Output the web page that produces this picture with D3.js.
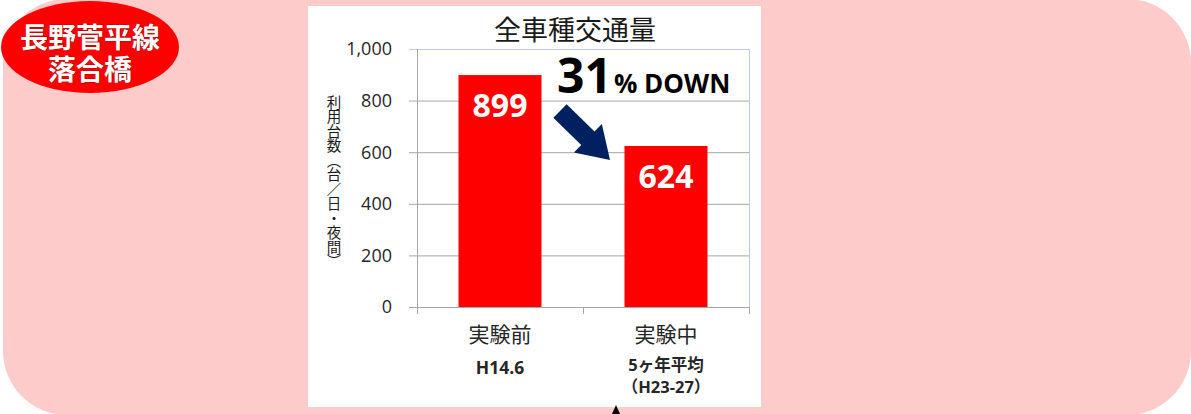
<!DOCTYPE html>
<html>
  <head>
    <meta charset="utf-8">
    <style>
      body { margin: 0; background: #ffffff; }
      .tick-label {
        font-family: 'Open Sans', 'Noto Sans CJK JP', sans-serif;
        font-size: 18px;
        fill: #262626;
      }
      .jp {
        font-family: 'Noto Sans CJK JP', sans-serif;
      }
    </style>
  </head>
  <body>
    <script src="https://d3js.org/d3.v7.min.js"></script>
    <script>
      // data
      var categories = ["実験前", "実験中"];
      var values = [899, 624];
      var subLabels = [["H14.6"], ["5ヶ年平均", "（H23-27）"]];
      var yTicks = [0, 200, 400, 600, 800, 1000];
      var title = "全車種交通量";
      var yLabel = "利用台数（台／日・夜間）";
      var badgeLines = ["長野菅平線", "落合橋"];

      var width = 1191;
      var height = 414;

      var svg = d3.select("body")
        .append("svg")
        .attr("width", width)
        .attr("height", height);

      // pink background panel
      svg.append("rect")
        .attr("x", 3).attr("y", -1)
        .attr("width", 1188).attr("height", 416)
        .attr("rx", 64).attr("ry", 64)
        .attr("fill", "#fecbcb");

      // white chart panel
      svg.append("rect")
        .attr("x", 308).attr("y", 6)
        .attr("width", 453).attr("height", 401)
        .attr("fill", "#ffffff");

      var plot = { left: 417, right: 749, top: 49, bottom: 307 };

      var y = d3.scaleLinear()
        .domain([0, 1000])
        .range([plot.bottom, plot.top]);

      var x = d3.scaleBand()
        .domain(categories)
        .range([plot.left, plot.right])
        .paddingInner(0.5)
        .paddingOuter(0.25);

      // gridlines + y ticks
      svg.append("g").selectAll("line")
        .data(yTicks)
        .enter().append("line")
        .attr("x1", plot.left - 8)
        .attr("x2", plot.right)
        .attr("y1", function(d) { return y(d) + 0.5; })
        .attr("y2", function(d) { return y(d) + 0.5; })
        .attr("stroke", function(d) { return d === 1000 ? "#b9cde5" : "#a6a6a6"; })
        .attr("stroke-width", 1);

      svg.selectAll(".tick-label")
        .data(yTicks)
        .enter().append("text")
        .attr("class", "tick-label")
        .attr("x", 392)
        .attr("y", function(d) { return y(d); })
        .attr("dy", "0.36em")
        .attr("text-anchor", "end")
        .text(d3.format(","));

      // plot borders
      svg.append("line")
        .attr("x1", plot.right + 0.5).attr("x2", plot.right + 0.5)
        .attr("y1", plot.top).attr("y2", plot.bottom)
        .attr("stroke", "#b9cde5");
      svg.append("line")
        .attr("x1", plot.left + 0.5).attr("x2", plot.left + 0.5)
        .attr("y1", plot.top).attr("y2", plot.bottom + 7)
        .attr("stroke", "#a6a6a6");

      // x ticks at band boundaries
      var xTickPos = [plot.left, (plot.left + plot.right) / 2, plot.right];
      svg.selectAll(".xtick")
        .data(xTickPos)
        .enter().append("line")
        .attr("x1", function(d) { return Math.round(d) + 0.5; })
        .attr("x2", function(d) { return Math.round(d) + 0.5; })
        .attr("y1", plot.bottom)
        .attr("y2", plot.bottom + 7)
        .attr("stroke", "#a6a6a6");

      // bars
      svg.selectAll(".bar")
        .data(values)
        .enter().append("rect")
        .attr("x", function(d, i) { return x(categories[i]); })
        .attr("y", function(d) { return y(d); })
        .attr("width", x.bandwidth())
        .attr("height", function(d) { return plot.bottom - y(d); })
        .attr("fill", "#ff0000");

      svg.selectAll(".bar-label")
        .data(values)
        .enter().append("text")
        .attr("x", function(d, i) { return x(categories[i]) + x.bandwidth() / 2; })
        .attr("y", function(d) { return y(d) + 42; })
        .attr("text-anchor", "middle")
        .attr("font-family", "'Open Sans', sans-serif")
        .attr("font-weight", "bold")
        .attr("font-size", 32)
        .attr("fill", "#ffffff")
        .text(function(d) { return d; });

      // category labels
      svg.selectAll(".cat")
        .data(categories)
        .enter().append("text")
        .attr("class", "jp")
        .attr("x", function(d) { return x(d) + x.bandwidth() / 2; })
        .attr("y", 342)
        .attr("text-anchor", "middle")
        .attr("font-size", 21)
        .attr("fill", "#262626")
        .text(function(d) { return d; });

      categories.forEach(function(c, i) {
        subLabels[i].forEach(function(s, j) {
          svg.append("text")
            .attr("font-family", "'Open Sans', 'Noto Sans CJK JP', sans-serif")
            .attr("x", x(c) + x.bandwidth() / 2)
            .attr("y", (i === 0 ? 374 : 371) + j * 22)
            .attr("text-anchor", "middle")
            .attr("font-size", i === 0 ? 17.5 : 16.5)
            .attr("font-weight", "bold")
            .attr("fill", "#262626")
            .text(s);
        });
      });

      // title
      svg.append("text")
        .attr("class", "jp")
        .attr("x", 575)
        .attr("y", 40)
        .attr("text-anchor", "middle")
        .attr("font-size", 27)
        .attr("fill", "#1a1a1a")
        .text(title);

      // y axis label, vertical writing
      svg.append("text")
        .attr("class", "jp")
        .attr("x", 334)
        .attr("y", 95)
        .attr("font-size", 14.5)
        .attr("fill", "#1a1a1a")
        .style("writing-mode", "vertical-rl")
        .text(yLabel);

      // percent change annotation
      var pct = Math.round((1 - values[1] / values[0]) * 100);
      var note = svg.append("text")
        .attr("x", 557)
        .attr("y", 93)
        .attr("font-family", "'Open Sans', sans-serif")
        .attr("font-weight", "bold")
        .attr("fill", "#000000");
      note.append("tspan").attr("font-size", 48).text(pct);
      note.append("tspan").attr("font-size", 26).attr("dx", 2).text("% DOWN");

      // navy arrow
      var arrowPts = [[0, -9.5], [39, -9.5], [39, -20], [70, 0], [39, 20], [39, 9.5], [0, 9.5]];
      svg.append("polygon")
        .attr("points", arrowPts.map(function(p) { return p.join(","); }).join(" "))
        .attr("transform", "translate(560,111) rotate(44.4)")
        .attr("fill", "#002060");

      // small black marker at bottom
      svg.append("polygon")
        .attr("points", "616,405 612,414 620,414")
        .attr("fill", "#000000");

      // red badge
      svg.append("ellipse")
        .attr("cx", 90).attr("cy", 47)
        .attr("rx", 89).attr("ry", 46)
        .attr("fill", "#ff0000");

      var badge = svg.append("text")
        .attr("class", "jp")
        .attr("text-anchor", "middle")
        .attr("font-size", 28)
        .attr("font-weight", "bold")
        .attr("fill", "#ffffff")
        .attr("stroke", "#7a0000")
        .attr("stroke-width", 0.6)
        .attr("paint-order", "stroke");
      badge.selectAll("tspan")
        .data(badgeLines)
        .enter().append("tspan")
        .attr("x", 90)
        .attr("y", function(d, i) { return 48 + i * 32; })
        .text(function(d) { return d; });
    </script>
  </body>
</html>
